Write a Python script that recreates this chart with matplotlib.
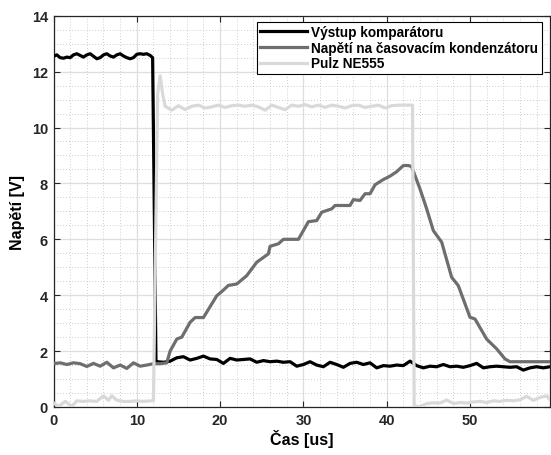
import numpy as np
import matplotlib
matplotlib.use("Agg")
import matplotlib.pyplot as plt
from matplotlib.ticker import MultipleLocator

plt.rcParams['font.family'] = ['Liberation Sans', 'DejaVu Sans']

# --- Výstup komparátoru (comparator output) ---
t_cmp_high = np.round(np.arange(0.0, 11.7, 0.4), 2)
v_cmp_high = [12.55, 12.60, 12.50, 12.48, 12.52, 12.50, 12.60, 12.64, 12.58, 12.52,
              12.60, 12.64, 12.55, 12.46, 12.50, 12.60, 12.64, 12.56, 12.52, 12.60,
              12.64, 12.56, 12.50, 12.46, 12.50, 12.62, 12.64, 12.62, 12.64, 12.58]
t_cmp_edge = [11.9, 12.3]
v_cmp_edge = [12.50, 1.65]
t_cmp_low = np.round(np.arange(12.4, 59.7, 0.8), 2)
v_cmp_low = [1.62, 1.60, 1.64, 1.76, 1.80, 1.68, 1.74, 1.82, 1.72, 1.70,
             1.56, 1.74, 1.68, 1.70, 1.72, 1.60, 1.66, 1.62, 1.64, 1.60,
             1.62, 1.46, 1.52, 1.62, 1.50, 1.44, 1.60, 1.52, 1.42, 1.56,
             1.60, 1.52, 1.58, 1.40, 1.48, 1.46, 1.50, 1.48, 1.64, 1.48,
             1.40, 1.46, 1.44, 1.52, 1.44, 1.46, 1.42, 1.48, 1.56, 1.40,
             1.44, 1.46, 1.44, 1.42, 1.44, 1.32, 1.40, 1.44, 1.40, 1.44]

# --- Napětí na časovacím kondenzátoru (timing capacitor voltage) ---
t_cap_base = np.round(np.arange(0.0, 13.7, 0.8), 2)
v_cap_base = [1.55, 1.58, 1.52, 1.58, 1.55, 1.45, 1.56, 1.46, 1.60, 1.40,
              1.50, 1.38, 1.58, 1.46, 1.50, 1.55, 1.55, 1.58]
t_cap_ramp = [14.0, 14.8, 15.4, 16.4, 17.0, 18.0, 19.6, 20.2, 21.0, 22.0,
              23.2, 24.4, 25.8, 26.0, 27.0, 27.6, 29.4, 30.6, 31.6, 32.2,
              33.4, 33.8, 35.6, 36.0, 36.8, 37.4, 38.0, 38.6, 39.6, 40.4,
              41.2, 42.0, 42.6, 43.0]
v_cap_ramp = [2.00, 2.43, 2.50, 3.03, 3.20, 3.20, 3.98, 4.13, 4.35, 4.40,
              4.70, 5.18, 5.48, 5.75, 5.84, 6.00, 6.00, 6.63, 6.67, 6.97,
              7.09, 7.21, 7.21, 7.42, 7.39, 7.63, 7.63, 7.95, 8.14, 8.26,
              8.42, 8.64, 8.64, 8.60]
t_cap_fall = [44.0, 44.8, 45.6, 46.6, 47.8, 48.6, 50.0, 50.6, 52.0, 53.2,
              54.2, 54.8, 59.6]
v_cap_fall = [7.80, 7.09, 6.31, 5.90, 4.64, 4.34, 3.21, 3.15, 2.43, 2.08,
              1.72, 1.62, 1.62]

# --- Pulz NE555 ---
t_pls_low = [0.0, 0.6, 1.4, 2.2, 2.8, 3.6, 4.4, 5.2, 6.0, 6.6,
             7.0, 7.6, 8.4, 9.2, 10.0, 10.8, 11.6, 12.0]
v_pls_low = [0.15, 0.02, 0.20, 0.02, 0.22, 0.20, 0.22, 0.20, 0.40, 0.24,
             0.40, 0.24, 0.20, 0.20, 0.22, 0.20, 0.22, 0.22]
t_pls_rise = [12.5, 12.8, 13.1]
v_pls_rise = [11.20, 11.85, 11.20]
t_pls_high = np.round(np.arange(13.4, 42.3, 0.8), 2)
v_pls_high = [10.76, 10.62, 10.78, 10.64, 10.76, 10.80, 10.70, 10.74, 10.80, 10.72,
              10.78, 10.80, 10.76, 10.80, 10.74, 10.62, 10.80, 10.72, 10.64, 10.80,
              10.76, 10.82, 10.74, 10.80, 10.72, 10.80, 10.76, 10.70, 10.78, 10.80,
              10.72, 10.76, 10.80, 10.70, 10.78, 10.80, 10.80]
t_pls_tail = [43.1, 43.3, 43.9, 44.8, 45.6, 46.4, 47.2, 48.0, 48.8, 49.6,
              50.4, 51.2, 52.0, 52.8, 53.6, 54.4, 55.2, 56.0, 56.8, 57.6,
              58.4, 59.2, 59.6]
v_pls_tail = [10.80, 0.05, 0.00, 0.12, 0.15, 0.14, 0.25, 0.12, 0.16, 0.14,
              0.18, 0.20, 0.16, 0.22, 0.20, 0.24, 0.22, 0.26, 0.38, 0.24,
              0.34, 0.40, 0.26]

labels = ['Výstup komparátoru', 'Napětí na časovacím kondenzátoru', 'Pulz NE555']
colors = ['#000000', '#6e6e6e', '#d9d9d9']

t_cmp = np.concatenate([t_cmp_high, t_cmp_edge, t_cmp_low])
v_cmp = np.concatenate([v_cmp_high, v_cmp_edge, v_cmp_low])
t_cap = np.concatenate([t_cap_base, t_cap_ramp, t_cap_fall])
v_cap = np.concatenate([v_cap_base, v_cap_ramp, v_cap_fall])
t_pls = np.concatenate([t_pls_low, t_pls_rise, t_pls_high, t_pls_tail])
v_pls = np.concatenate([v_pls_low, v_pls_rise, v_pls_high, v_pls_tail])

fig = plt.figure(figsize=(5.51, 4.56), dpi=100)
ax = fig.add_axes([0.0971, 0.1053, 0.901, 0.858])

lw = 2.3
ax.plot(t_cmp, v_cmp, color=colors[0], lw=lw, label=labels[0], zorder=3)
ax.plot(t_cap, v_cap, color=colors[1], lw=lw, label=labels[1], zorder=4)
ax.plot(t_pls, v_pls, color=colors[2], lw=lw, label=labels[2], zorder=5)

ax.set_xlim(0, 59.6)
ax.set_ylim(0, 14)
ax.xaxis.set_major_locator(MultipleLocator(10))
ax.xaxis.set_minor_locator(MultipleLocator(2))
ax.yaxis.set_major_locator(MultipleLocator(2))
ax.yaxis.set_minor_locator(MultipleLocator(0.5))

ax.grid(which='major', color='#dedede', lw=0.9, ls='-', zorder=0)
ax.grid(which='minor', color='#bdbdbd', lw=0.6, ls=(0, (1, 2.5)), zorder=0)
ax.set_axisbelow(True)

ax.tick_params(which='major', direction='in', top=True, right=True,
               length=4, width=0.8, labelsize=10.5, pad=4, colors='#262626')
ax.tick_params(which='minor', length=0, top=True, right=True)
for lab in ax.get_xticklabels() + ax.get_yticklabels():
    lab.set_fontweight('bold')
for s in ax.spines.values():
    s.set_linewidth(0.9)
    s.set_color('#262626')

ax.set_xlabel('Čas [us]', fontsize=11.5, fontweight='bold', labelpad=2)
ax.set_ylabel('Napětí [V]', fontsize=11.5, fontweight='bold', labelpad=5)

leg = ax.legend(loc='upper right', bbox_to_anchor=(0.9835, 0.985),
                prop={'size': 9.8, 'weight': 'bold'}, handlelength=3.4,
                handletextpad=0.35, labelspacing=0.12, borderpad=0.25,
                fancybox=False, framealpha=1, borderaxespad=0)
leg.get_frame().set_edgecolor('#000000')
leg.get_frame().set_linewidth(0.8)
for ln in leg.get_lines():
    ln.set_linewidth(lw)

fig.savefig('out.png', dpi=100)
